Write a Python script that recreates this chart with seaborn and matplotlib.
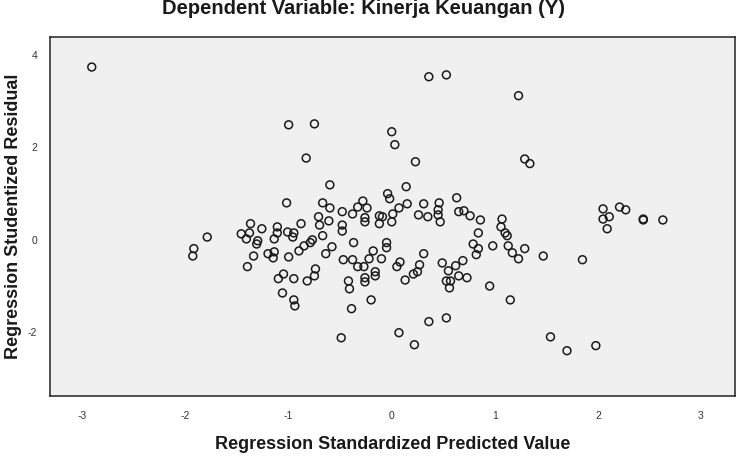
import matplotlib
matplotlib.use("Agg")
import matplotlib.pyplot as plt
import seaborn as sns
import pandas as pd

# Regression standardized predicted value (x) and studentized residual (y)
pred = [-2.91, -1.79, -1.92, -1.93, -1.37, -1.26, -1.11, -0.88, -1.01, -0.95,
        -1.46, -1.38, -1.11, -0.67, -1.41, -1.30, -1.31, -0.96, -1.14, -0.77,
        -0.79, -0.85, -0.90, -0.64, -1.14, -1.20, -1.15, -1.00, -1.34, -1.40,
        -0.74, -1.05, -1.10, -0.95, -0.82, -0.75, -1.06, -0.95, -0.94, -1.02,
        -0.67, -0.71, -0.70, -0.60, -0.60, -0.61, -0.58, -1.00, -0.75, -0.83,
        0.00, 0.03, 0.23, 0.36, 0.53, 1.23, 1.29, 1.34, 0.14, -0.04,
        -0.02, -0.28, -0.33, -0.24, -0.48, -0.38, -0.26, -0.26, -0.12, -0.09,
        -0.12, 0.01, 0.07, 0.15, 0.00, 0.31, 0.26, 0.35, -0.48, -0.48,
        -0.37, -0.05, -0.05, -0.18, -0.47, -0.38, -0.33, -0.27, -0.22, -0.10,
        0.08, 0.05, 0.31, 0.27, 0.25, 0.21, 0.13, -0.16, -0.16, -0.26,
        -0.26, -0.42, -0.41, -0.20, -0.39, -0.49, 0.07, 0.22, 0.63, 0.46,
        0.45, 0.45, 0.47, 0.65, 0.70, 0.76, 0.86, 0.84, 1.07, 1.06,
        1.10, 1.12, 1.13, 0.98, 0.79, 0.84, 0.82, 1.17, 1.23, 1.29,
        1.47, 0.49, 0.55, 0.62, 0.69, 0.65, 0.73, 0.53, 0.57, 0.56,
        0.95, 1.15, 0.36, 0.53, 2.05, 2.21, 2.27, 2.05, 2.11, 2.09,
        2.44, 2.44, 2.63, 1.85, 1.54, 1.70, 1.98]
resid = [3.74, 0.06, -0.19, -0.35, 0.35, 0.24, 0.28, 0.35, 0.17, 0.15,
         0.13, 0.15, 0.15, 0.09, 0.02, -0.02, -0.09, 0.06, 0.02, 0.00,
         -0.06, -0.13, -0.24, -0.30, -0.26, -0.30, -0.39, -0.37, -0.35, -0.58,
         -0.63, -0.74, -0.84, -0.84, -0.89, -0.78, -1.15, -1.30, -1.43, 0.80,
         0.80, 0.50, 0.32, 1.19, 0.69, 0.41, -0.15, 2.49, 2.51, 1.77,
         2.34, 2.06, 1.69, 3.53, 3.57, 3.12, 1.75, 1.65, 1.15, 1.00,
         0.89, 0.84, 0.71, 0.69, 0.61, 0.56, 0.48, 0.39, 0.52, 0.50,
         0.35, 0.56, 0.69, 0.78, 0.39, 0.78, 0.54, 0.50, 0.32, 0.19,
         -0.06, -0.06, -0.17, -0.24, -0.43, -0.43, -0.58, -0.58, -0.41, -0.41,
         -0.48, -0.58, -0.30, -0.54, -0.69, -0.74, -0.87, -0.69, -0.78, -0.82,
         -0.91, -0.89, -1.06, -1.30, -1.49, -2.12, -2.01, -2.27, 0.91, 0.80,
         0.65, 0.54, 0.39, 0.61, 0.63, 0.52, 0.43, 0.15, 0.45, 0.28,
         0.15, 0.09, -0.13, -0.13, -0.09, -0.19, -0.32, -0.28, -0.41, -0.19,
         -0.35, -0.50, -0.67, -0.56, -0.45, -0.78, -0.82, -0.89, -0.89, -1.04,
         -1.00, -1.30, -1.77, -1.69, 0.67, 0.71, 0.65, 0.45, 0.50, 0.24,
         0.45, 0.43, 0.43, -0.43, -2.10, -2.40, -2.29]

x_ticks = [-3, -2, -1, 0, 1, 2, 3]
y_ticks = [-2, 0, 2, 4]
title = "Dependent Variable: Kinerja Keuangan (Y)"
x_label = "Regression Standardized Predicted Value"
y_label = "Regression Studentized Residual"

df = pd.DataFrame({"pred": pred, "resid": resid})

sns.set_style("white")
plt.rcParams["font.family"] = ["Liberation Sans", "DejaVu Sans"]

fig = plt.figure(figsize=(7.46, 4.57), dpi=100)
ax = fig.add_axes([49.5 / 746, 1 - 396 / 457, (735 - 49.5) / 746, (396 - 37) / 457])
ax.set_facecolor("#f0f0f0")

sns.scatterplot(data=df, x="pred", y="resid", ax=ax, marker="o", s=32,
                fc="none", ec="#1a1a1a", linewidth=1.1)

ax.set_xlim(-3.32, 3.33)
ax.set_ylim(-3.38, 4.39)
ax.set_xticks(x_ticks)
ax.set_yticks(y_ticks)
ax.set_xticklabels([str(t) for t in x_ticks])
ax.set_yticklabels([str(t) for t in y_ticks])
ax.tick_params(axis="both", direction="out", labelsize=7.5, labelcolor="#333333",
               color="#333333", width=0.8)
ax.tick_params(axis="x", length=5, pad=6)
ax.tick_params(axis="y", length=7, pad=2)
for sp in ax.spines.values():
    sp.set_color("#222222")
    sp.set_linewidth(1.1)

ax.set_xlabel(x_label, fontsize=13, fontweight="bold", color="#1a1a1a")
ax.xaxis.set_label_coords(0.5, (396 - 436) / 359)
ax.set_ylabel(y_label, fontsize=13, fontweight="bold", color="#1a1a1a", va="center")
ax.yaxis.set_label_coords((14 - 49.5) / 685.5, 0.5)

fig.text(364 / 746, 1 - 14 / 457, title, ha="center", va="baseline",
         fontsize=14.5, fontweight="bold", color="#1a1a1a")

fig.savefig("out.png", dpi=100)
